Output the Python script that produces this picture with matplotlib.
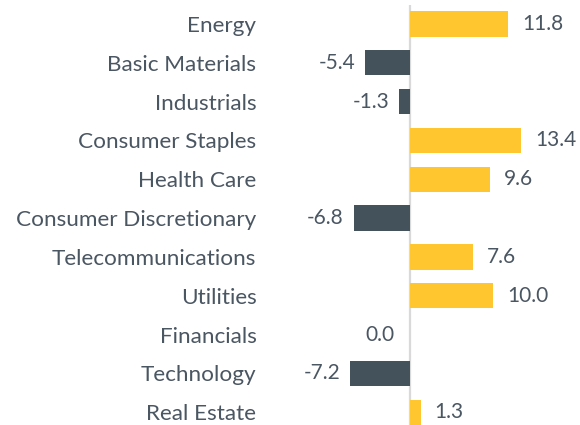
import matplotlib
matplotlib.use("Agg")
import matplotlib.pyplot as plt
import numpy as np

sectors = [
    "Energy",
    "Basic Materials",
    "Industrials",
    "Consumer Staples",
    "Health Care",
    "Consumer Discretionary",
    "Telecommunications",
    "Utilities",
    "Financials",
    "Technology",
    "Real Estate",
]
values = [11.8, -5.4, -1.3, 13.4, 9.6, -6.8, 7.6, 10.0, 0.0, -7.2, 1.3]

pos_color = "#FFC62F"
neg_color = "#44525C"
text_color = "#4A5662"

plt.rcParams["font.family"] = ["Lato", "DejaVu Sans"]

fig = plt.figure(figsize=(5.8, 4.25), dpi=100)
ax = fig.add_axes([280 / 580, -0.0155, 295 / 580, 1.0047])

y = np.arange(len(sectors))
colors = [pos_color if v > 0 else neg_color for v in values]
ax.barh(y, values, height=0.65, color=colors)
ax.axvline(0, color="#D9D9D9", lw=1.6, zorder=0)

for yi, v in zip(y, values):
    if v > 0:
        ax.annotate(f"{v:.1f}", (v, yi), xytext=(10, 0), textcoords="offset points",
                    ha="left", va="center", fontsize=15, color=text_color)
    else:
        off = -11 if v == 0 else -7
        ax.annotate(f"{v:.1f}", (v, yi), xytext=(off, 0), textcoords="offset points",
                    ha="right", va="center", fontsize=15, color=text_color)

ax.set_xlim(-130 / 8.3, 165 / 8.3)
ax.set_ylim(10.5, -0.5)
ax.set_yticks(y)
ax.set_yticklabels(sectors, fontsize=16.2, color=text_color)
ax.tick_params(axis="y", length=0, pad=17)
ax.set_xticks([])
for s in ax.spines.values():
    s.set_visible(False)

fig.savefig("out.png", dpi=100)
